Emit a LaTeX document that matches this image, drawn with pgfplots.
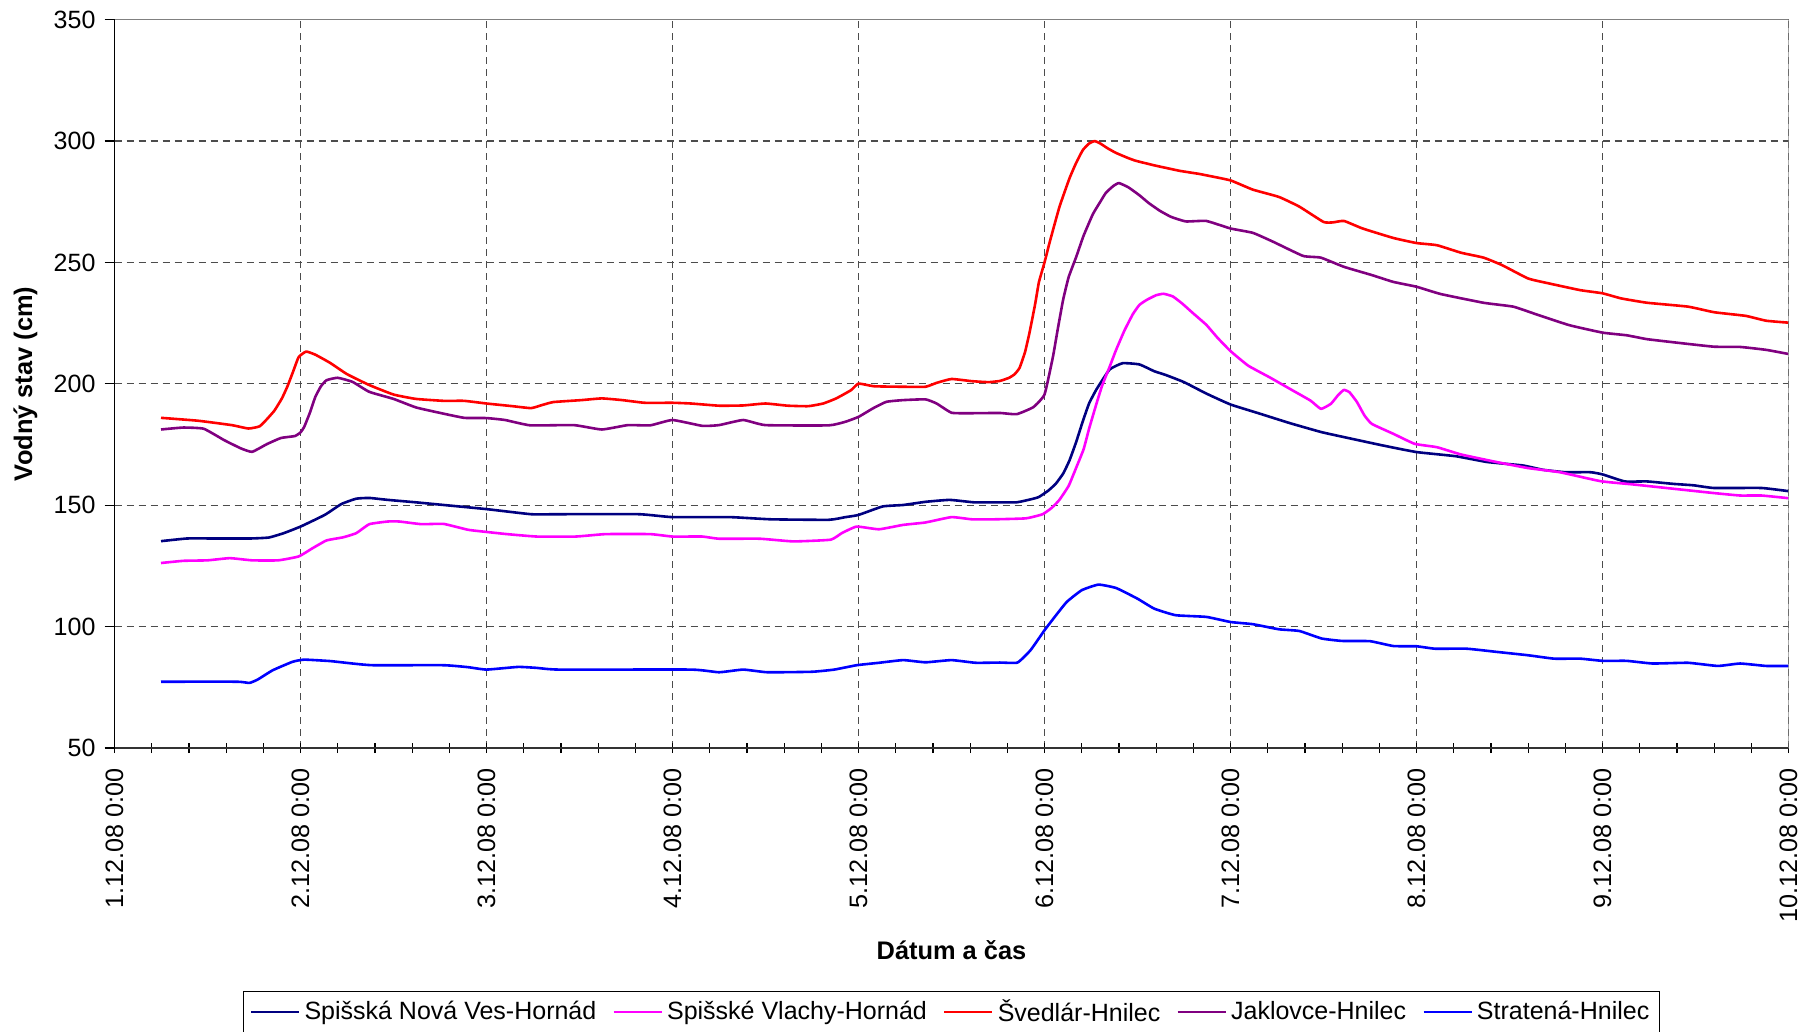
\documentclass[border=0pt]{standalone}
\usepackage{pgfplots}
\pgfplotsset{compat=1.18}
\usepackage{fontspec}
\setmainfont{Liberation Sans}
\definecolor{snv}{RGB}{0,0,128}
\definecolor{svl}{RGB}{255,0,255}
\definecolor{sve}{RGB}{255,0,0}
\definecolor{jak}{RGB}{128,0,128}
\definecolor{str}{RGB}{0,0,255}
\begin{document}
\begin{tikzpicture}
\begin{axis}[
  at={(57.25pt,142pt)}, anchor=south west,
  scale only axis, width=837pt, height=364.15pt,
  xmin=0, xmax=9, ymin=50, ymax=350,
  xtick={0,1,2,3,4,5,6,7,8,9},
  xticklabels={1.12.08 0:00,2.12.08 0:00,3.12.08 0:00,4.12.08 0:00,5.12.08 0:00,6.12.08 0:00,7.12.08 0:00,8.12.08 0:00,9.12.08 0:00,10.12.08 0:00},
  minor x tick num=4,
  ytick={50,100,150,200,250,300,350},
  /pgf/number format/assume math mode=true,
  axis x line*=bottom, axis y line*=left,
  x axis line style={-, line width=1pt, black!80},
  y axis line style={-, line width=0.8pt, black},
  xtick style={black, line width=0.6pt},
  ytick style={black, line width=0.6pt},
  major tick length=5pt, minor tick length=5pt,
  xtick align=center,
  ytick align=outside,
  grid=major,
  major grid style={dashed, dash pattern=on 3.5pt off 2.5pt, black!70, line width=0.6pt},
  tick label style={font=\fontsize{12.5}{14}\selectfont},
  xticklabel style={rotate=90, anchor=east, font=\fontsize{12.6}{14}\selectfont},
  xticklabel shift=4pt,
  yticklabel style={xshift=-1pt},
  xlabel={\textbf{Dátum a čas}},
  ylabel={\textbf{Vodný stav (cm)}},
  label style={font=\fontsize{12.7}{15}\selectfont},
  xlabel style={at={(axis description cs:0.5,-0.278)}, anchor=center},
  ylabel style={at={(axis description cs:-0.0532,0.5)}, anchor=center},
  legend columns=5,
  legend style={at={(axis description cs:0.5,-0.3625)}, anchor=center, draw=black, line width=0.6pt,
    font=\fontsize{12.5}{14}\selectfont, inner xsep=3pt, inner ysep=2pt,
    /tikz/every even column/.append style={column sep=6pt}},
  legend image code/.code={\draw[#1, line width=1.4pt] (0pt,0pt) -- (24pt,0pt);},
  every axis plot/.append style={line width=1.3pt, line join=round, smooth, tension=0.25},
]
\addplot[snv] coordinates {(0.25,135.2) (0.39,136.3) (0.54,136.3) (0.73,136.3) (0.83,136.7) (0.91,138.5) (1.0,141.2) (1.13,146) (1.22,150.5) (1.3,152.7) (1.37,153) (1.47,152.2) (1.62,151.2) (1.77,150.1) (2.0,148.4) (2.24,146.3) (2.39,146.3) (2.82,146.3) (3.0,145.1) (3.31,145.1) (3.53,144.2) (3.84,144) (3.93,145.1) (4.0,146) (4.13,149.5) (4.24,150.1) (4.36,151.4) (4.49,152.2) (4.62,151.2) (4.73,151.2) (4.85,151.2) (4.93,152.5) (4.97,153.4) (5.02,156) (5.06,158.8) (5.1,163) (5.134,168.4) (5.17,176) (5.206,184.6) (5.24,192) (5.28,197.8) (5.35,205.9) (5.42,208.5) (5.51,208) (5.59,205.2) (5.65,203.7) (5.75,200.7) (5.87,196) (6.0,191.5) (6.15,187.9) (6.32,183.8) (6.49,180.1) (6.65,177.4) (6.82,174.6) (7.0,171.9) (7.21,170.2) (7.38,167.8) (7.57,166.4) (7.68,164.6) (7.8,163.6) (7.935,163.6) (8.0,162.7) (8.12,159.8) (8.24,159.8) (8.38,158.8) (8.49,158.2) (8.6,157.1) (8.855,157.1) (9.0,155.8)};
\addlegendentry{Spišská Nová Ves-Hornád}
\addplot[svl] coordinates {(0.25,126.2) (0.37,127.1) (0.5,127.3) (0.62,128.2) (0.74,127.3) (0.88,127.3) (0.99,128.9) (1.065,132.3) (1.14,135.5) (1.23,136.8) (1.3,138.5) (1.37,142.2) (1.47,143.3) (1.53,143.3) (1.65,142.2) (1.77,142.3) (1.9,139.9) (2.0,139) (2.11,138.1) (2.27,137.1) (2.48,137.1) (2.64,138.1) (2.88,138.1) (3.0,137.1) (3.16,137.1) (3.25,136.2) (3.47,136.2) (3.65,135.1) (3.85,135.8) (3.91,138.5) (3.99,141.2) (4.11,140.1) (4.24,141.9) (4.36,142.9) (4.5,145.1) (4.61,144.2) (4.73,144.2) (4.9,144.6) (4.99,146.3) (5.04,149) (5.08,152.2) (5.13,158) (5.17,165.4) (5.21,173) (5.24,181.6) (5.28,192) (5.31,199.3) (5.35,207) (5.385,214) (5.43,222) (5.475,228.7) (5.51,232.5) (5.55,234.6) (5.6,236.5) (5.64,237.1) (5.69,236) (5.74,233.1) (5.8,229) (5.87,224.3) (5.93,219) (6.0,213.5) (6.095,207.5) (6.21,202.7) (6.32,197.9) (6.43,193.1) (6.486,189.7) (6.54,191.8) (6.58,195.5) (6.61,197.5) (6.64,196.5) (6.68,192.5) (6.72,187) (6.76,183.5) (6.876,179.4) (6.99,175.3) (7.11,173.9) (7.24,170.9) (7.43,167.8) (7.6,165.3) (7.77,163.6) (7.99,159.9) (8.16,158.6) (8.38,156.8) (8.6,155) (8.74,154) (8.855,154) (9.0,152.9)};
\addlegendentry{Spišské Vlachy-Hornád}
\addplot[sve] coordinates {(0.25,186) (0.45,184.8) (0.63,183) (0.72,181.6) (0.78,182.5) (0.82,185.5) (0.86,189) (0.9,194) (0.93,199) (0.96,205) (0.99,211) (1.03,213.3) (1.08,212) (1.16,208.6) (1.25,204) (1.37,199.5) (1.5,195.6) (1.62,193.8) (1.77,193) (1.88,193) (2.0,191.9) (2.14,190.8) (2.24,190) (2.3,191.3) (2.36,192.5) (2.51,193.3) (2.62,194) (2.73,193.3) (2.85,192.2) (3.0,192.2) (3.1,191.9) (3.25,191) (3.38,191.1) (3.5,191.9) (3.62,191) (3.73,190.8) (3.81,191.9) (3.88,194) (3.96,197.4) (4.0,200.1) (4.085,199) (4.24,198.8) (4.36,198.8) (4.42,200.4) (4.5,202) (4.61,201.1) (4.70,200.7) (4.76,201.2) (4.81,202.5) (4.84,204) (4.866,206.6) (4.895,213) (4.92,221.3) (4.95,233) (4.97,241.9) (5.0,250) (5.027,258.1) (5.08,272.8) (5.134,284.6) (5.17,291) (5.206,296.3) (5.24,299) (5.27,300) (5.3,299) (5.34,297) (5.385,295.1) (5.45,293) (5.49,291.9) (5.59,290) (5.65,289) (5.73,287.7) (5.83,286.5) (5.87,285.9) (6.0,283.8) (6.12,280) (6.26,277) (6.37,273) (6.5,266.7) (6.55,266.5) (6.61,267.1) (6.71,264) (6.875,260.1) (7.0,258) (7.11,257.1) (7.24,254) (7.36,252) (7.46,248.9) (7.6,243.4) (7.71,241.4) (7.88,238.6) (8.0,237.3) (8.1,235.2) (8.24,233.4) (8.46,231.8) (8.6,229.5) (8.77,228) (8.88,226) (9.0,225.2)};
\addlegendentry{Švedlár-Hnilec}
\addplot[jak] coordinates {(0.25,181.2) (0.37,182) (0.48,181.5) (0.59,176.8) (0.68,173.4) (0.74,172) (0.82,175.2) (0.895,177.7) (0.97,178.5) (1.0,180) (1.02,182.3) (1.05,188) (1.08,194.7) (1.11,199) (1.14,201.5) (1.2,202.5) (1.28,200.8) (1.37,196.7) (1.5,193.8) (1.62,190.3) (1.74,188.2) (1.88,186) (2.0,185.9) (2.1,185.1) (2.236,182.9) (2.47,183) (2.62,181.2) (2.76,183) (2.88,182.9) (3.0,185.1) (3.16,182.7) (3.25,183) (3.38,185.1) (3.5,183) (3.84,182.9) (3.93,184.4) (4.0,186.4) (4.08,190) (4.15,192.6) (4.24,193.3) (4.36,193.6) (4.42,191.9) (4.5,188.1) (4.6,187.9) (4.76,188) (4.85,187.5) (4.94,190.4) (5.0,195.6) (5.045,211) (5.07,222) (5.1,234.6) (5.13,244) (5.17,252.2) (5.21,261) (5.26,269.9) (5.3,275) (5.33,278.7) (5.37,281.5) (5.40,282.7) (5.45,281) (5.51,277.7) (5.56,274.5) (5.62,271.3) (5.68,268.8) (5.76,266.9) (5.87,267.1) (6.0,264) (6.12,262.2) (6.23,258.5) (6.39,252.7) (6.485,252) (6.61,248.2) (6.76,244.8) (6.875,242) (7.0,240) (7.13,237) (7.36,233.4) (7.52,231.8) (7.63,229) (7.82,224.2) (8.0,221.1) (8.13,220) (8.24,218.4) (8.43,216.7) (8.6,215.3) (8.74,215.2) (8.88,214) (9.0,212.3)};
\addlegendentry{Jaklovce-Hnilec}
\addplot[str] coordinates {(0.25,77.3) (0.66,77.3) (0.725,76.8) (0.77,78.2) (0.85,82) (0.957,85.5) (1.02,86.4) (1.16,85.8) (1.28,84.8) (1.39,84.1) (1.77,84.1) (1.9,83.3) (2.0,82.3) (2.17,83.4) (2.27,83) (2.39,82.3) (3.1,82.3) (3.25,81.2) (3.38,82.3) (3.51,81.2) (3.75,81.4) (3.87,82.3) (3.99,84.1) (4.11,85.1) (4.24,86.2) (4.36,85.3) (4.5,86.2) (4.63,85.1) (4.76,85.2) (4.855,85.2) (4.925,90.3) (5.0,98.5) (5.06,104.5) (5.12,110.2) (5.2,115) (5.29,117.3) (5.385,115.9) (5.5,111.5) (5.59,107.4) (5.705,104.7) (5.87,104) (6.0,101.9) (6.12,101) (6.26,98.9) (6.37,98.2) (6.49,95.1) (6.6,94.1) (6.75,94) (6.876,92) (7.0,91.9) (7.1,90.9) (7.27,90.9) (7.43,89.6) (7.6,88.2) (7.74,86.8) (7.88,86.8) (8.0,85.9) (8.13,85.9) (8.27,84.8) (8.46,85.1) (8.62,83.8) (8.74,84.8) (8.88,83.8) (9.0,83.8)};
\addlegendentry{Stratená-Hnilec}
\draw[black!50, line width=0.8pt] (rel axis cs:0,1) -- (rel axis cs:1,1) -- (rel axis cs:1,0);
\end{axis}
\pgfresetboundingbox
\path[use as bounding box] (0,0) rectangle (906.5pt,516pt);
\end{tikzpicture}
\end{document}
